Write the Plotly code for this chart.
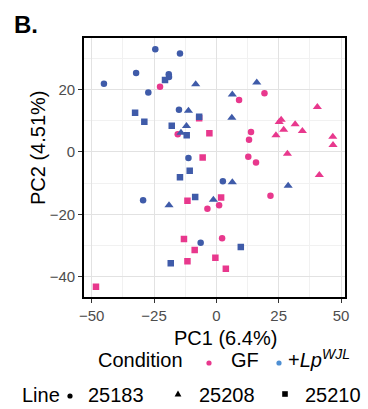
import plotly.graph_objects as go

# ---------------- data ----------------
conditions = ["GF", "+Lp"]
lines = ["25183", "25208", "25210"]

gf_25183_x = [-22.6, 9.1, 19.3, -15.5, 13.9, 13.1, 12.8, 15.9, 21.7, -3.6, 1.1, 2.3]
gf_25183_y = [20.9, 16.7, 18.8, 5.7, 6.4, 3.9, -1.5, -3.4, -14.0, -18.2, -17.1, -27.7]
gf_25208_x = [40.5, 25.2, 26.0, 31.6, 27.0, 34.5, 23.9, 46.7, 46.8, 28.5, 41.3]
gf_25208_y = [14.4, 9.6, 10.3, 8.9, 7.1, 6.7, 5.4, 4.9, 2.2, -0.6, -7.4]
gf_25210_x = [-6.9, -2.8, -5.5, -11.6, 1.9, -13.0, -8.7, -11.6, -0.4, 3.8, -48.3]
gf_25210_y = [10.8, 6.0, -1.8, -15.6, -14.6, -27.9, -31.4, -35.0, -33.9, -37.4, -43.2]

lp_25183_x = [-24.5, -14.6, -32.2, -19.1, -19.0, -45.1, -27.3, -15.0, -11.2, 2.6, -29.4, -6.3]
lp_25183_y = [32.9, 31.6, 25.3, 24.9, 24.0, 21.9, 19.1, 13.5, -1.9, -9.4, -15.5, -29.1]
lp_25208_x = [-8.3, 16.2, 6.4, -11.2, 6.2, -12.0, -14.2, 6.4, 28.8, -1.2, -19.0]
lp_25208_y = [21.7, 22.3, 18.4, 13.2, 11.0, 8.3, 6.2, -9.7, -10.8, -15.3, -17.1]
lp_25210_x = [-20.6, -32.6, -28.9, -6.9, -17.9, -11.9, -10.7, -14.6, -8.5, 9.8, -18.3]
lp_25210_y = [23.1, 12.6, 9.7, 11.3, 8.4, 5.4, -6.0, -8.1, -14.4, -30.5, -35.7]

x_ticks = [-50, -25, 0, 25, 50]
y_ticks = [-40, -20, 0, 20]

# ---------------- styling ----------------
W, H = 368, 409
PINK = "#E8388D"
BLUE = "#3F5BA9"
LEG_BLUE = "#4E8FD3"
FONT = "Liberation Sans, Arial, Helvetica, sans-serif"

# plot area in pixels
PL, PR, PT, PB = 84, 345, 37.5, 296.7


def fx(px):
    return px / W


def fy(py):
    return 1 - py / H


sym = {"25183": "circle", "25208": "triangle-up", "25210": "square"}
size = {"25183": 6.5, "25208": 8, "25210": 6.5}

groups = [
    ("GF", "25183", gf_25183_x, gf_25183_y, PINK),
    ("GF", "25208", gf_25208_x, gf_25208_y, PINK),
    ("GF", "25210", gf_25210_x, gf_25210_y, PINK),
    ("+Lp", "25183", lp_25183_x, lp_25183_y, BLUE),
    ("+Lp", "25208", lp_25208_x, lp_25208_y, BLUE),
    ("+Lp", "25210", lp_25210_x, lp_25210_y, BLUE),
]

fig = go.Figure()
for cond, line, xs, ys, col in groups:
    fig.add_trace(go.Scatter(
        x=xs, y=ys, mode="markers", name=f"{cond} {line}",
        marker=dict(symbol=sym[line], size=size[line], color=col,
                    line=dict(width=0)),
        showlegend=False,
    ))

axis_common = dict(
    showline=True, mirror=True, linecolor="black", linewidth=1.8,
    ticks="outside", ticklen=4, tickwidth=1, tickcolor="#333333",
    tickfont=dict(family=FONT, size=15, color="#4D4D4D"),
    showgrid=True, gridcolor="#E2E2E2", gridwidth=1.4,
    zeroline=False, automargin=False,
)

fig.update_layout(
    width=W, height=H,
    margin=dict(l=0, r=0, t=0, b=0),
    paper_bgcolor="white", plot_bgcolor="white",
    font=dict(family=FONT, color="black"),
    xaxis=dict(domain=[fx(PL), fx(PR)], range=[-53.1, 51.6],
               tickmode="array", tickvals=x_ticks,
               ticktext=["\u221250", "\u221225", "0", "25", "50"],
               minor=dict(tickmode="array", tickvals=[-37.5, -12.5, 12.5, 37.5],
                          showgrid=True, gridcolor="#F1F1F1", gridwidth=1, ticks=""),
               **axis_common),
    yaxis=dict(domain=[fy(PB), fy(PT)], range=[-46.4, 36.7],
               tickmode="array", tickvals=y_ticks,
               ticktext=["\u221240", "\u221220", "0", "20"],
               minor=dict(tickmode="array", tickvals=[-30, -10, 10, 30],
                          showgrid=True, gridcolor="#F1F1F1", gridwidth=1, ticks=""),
               **axis_common),
)

ann = []


def text(s, px, py, size=20, anchor="left", bold=False, color="black", angle=0):
    ann.append(dict(
        text=f"<b>{s}</b>" if bold else s,
        x=fx(px), y=fy(py), xref="paper", yref="paper",
        xanchor=anchor, yanchor="middle", showarrow=False, textangle=angle,
        font=dict(family=FONT, size=size, color=color),
    ))


text("B.", 12, 24, size=24, bold=True)
text("PC1 (6.4%)", 226, 338, size=20, anchor="center")
text("PC2 (4.51%)", 37.5, 147.5, size=20, anchor="center", angle=-90)

# legend row 1
ROW1, ROW2 = 360, 395
text("Condition", 96, ROW1)
text("GF", 229, ROW1)
text("+<i>Lp</i><sup><i>WJL</i></sup>", 286, ROW1 - 2)
# legend row 2
text("Line", 20, ROW2)
text(lines[0], 86, ROW2)
text(lines[1], 197, ROW2)
text(lines[2], 303, ROW2)

shapes = []


def circle(px, py, r, col):
    shapes.append(dict(type="circle", xref="paper", yref="paper",
                       xsizemode="pixel", ysizemode="pixel",
                       xanchor=fx(px), yanchor=fy(py),
                       x0=-r, x1=r, y0=-r, y1=r,
                       fillcolor=col, line=dict(width=0)))


circle(209, ROW1 + 3, 2.6, PINK)
circle(279, ROW1 + 3, 2.6, LEG_BLUE)
circle(70, ROW2 + 1, 2.6, "black")
# triangle key
shapes.append(dict(type="path", xref="paper", yref="paper",
                   xsizemode="pixel", ysizemode="pixel",
                   xanchor=fx(178), yanchor=fy(ROW2 - 1),
                   path="M -3.4 -2.6 L 3.4 -2.6 L 0 3.4 Z",
                   fillcolor="black", line=dict(width=0)))
# square key
shapes.append(dict(type="rect", xref="paper", yref="paper",
                   xsizemode="pixel", ysizemode="pixel",
                   xanchor=fx(285), yanchor=fy(ROW2 - 1),
                   x0=-2.8, x1=2.8, y0=-2.8, y1=2.8,
                   fillcolor="black", line=dict(width=0)))

fig.update_layout(annotations=ann, shapes=shapes)

fig.write_html("out.html")
